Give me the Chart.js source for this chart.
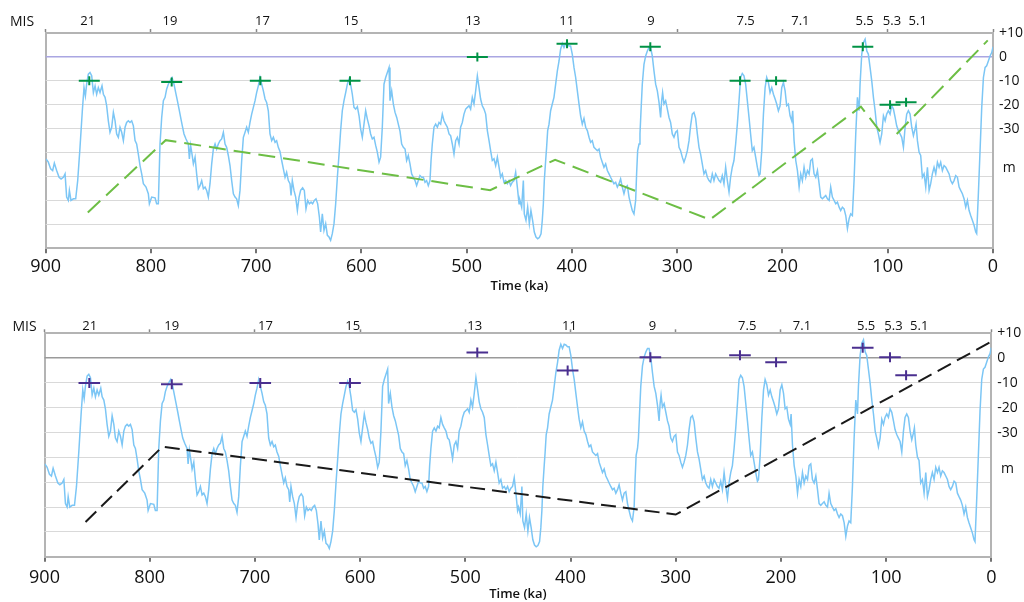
<!DOCTYPE html>
<html>
<head>
<meta charset="utf-8">
<script src="https://cdn.jsdelivr.net/npm/chart.js@4.4.1/dist/chart.umd.min.js"></script>
<style>
html,body{margin:0;padding:0;background:#fff;}
#wrap{position:relative;width:1024px;height:602px;overflow:hidden;font-family:"Open Sans","DejaVu Sans",sans-serif;}
canvas{position:absolute;left:0;}
.mis{position:absolute;font-size:14px;line-height:16px;color:#111;white-space:nowrap;}
</style>
</head>
<body>
<div id="wrap">
<canvas id="topChart" width="1024" height="300" style="top:0;width:1024px;height:300px"></canvas>
<canvas id="botChart" width="1024" height="302" style="top:300px;width:1024px;height:302px"></canvas>
<div class="mis" style="left:10px;top:13px">MIS</div>
<div class="mis" style="left:12.5px;top:318px">MIS</div>
</div>
<script>
// ---- sea-level curve (age in ka, level in m) ----
const ages = [
899.7,897.5,895.3,893.4,891.8,889.6,887.3,885.4,883.2,881.6,
880.1,878.5,877.5,876,873.7,871.5,869.6,867.4,865.2,863.6,
862.3,861.1,859.5,857.9,856.3,854.7,853.1,851.6,850,848.4,
846.5,845.2,843.6,842.1,840.5,838.9,837.3,835.7,834.1,832.6,
831,829.4,827.8,826.2,824.6,823.1,821.5,819.9,818.3,816.7,
815.1,813.6,812,810.4,808.8,807.2,804.7,802.5,801.5,799.3,
796.1,794.6,793,
791.4,789.8,788.2,786.6,785.1,783.5,781.9,780,778.1,776.5,
774.9,773.3,771.8,770.2,768.6,766.7,764.5,763.5,762.3,761,
759.7,758.1,756.6,755,753.4,751.8,750.2,748.6,747.1,745.5,
743.9,742.3,740.7,739.1,737.6,736,734.4,732.8,731.2,729.6,
728.1,726.5,724.9,723.3,721.7,720.1,718.6,717,715.4,713.8,
712.2,710.6,709.1,707.5,705.9,704.3,702.7,701.1,699.6,698,
696.4,694.8,693.2,691.6,690.1,688.5,686.9,685.3,683.7,682.1,
680.6,679,
677.4,675.8,674.2,672.6,671.1,669.5,667.9,666.9,665.7,664.1,
662.5,660.9,659.3,657.8,655.9,654.3,652.7,651.1,649.5,647.9,
646.4,644.8,643.2,641.6,640,638.8,637.2,635.6,634,632.4,
630.8,629.3,627.7,626.1,624.5,622.9,621.3,619.8,618.2,616.6,
615,613.4,611.8,610.3,608.7,607.1,605.5,603.9,602.3,600.8,
599.2,597.6,596,594.4,592.8,591.3,589.7,588.1,586.5,584.9,
583.3,581.8,580.2,578.6,577,575.4,573.8,572.9,571.3,569.7,
568.1,566.5,565,563.4,
561.8,560.2,558.6,557.1,555.5,553.9,552.3,550.7,549.1,547.6,
546,544.4,542.8,541.2,539.6,538.1,536.5,534.9,533.9,532.7,
531.1,529.5,527.9,526.3,524.8,523.2,521.6,520,518.4,516.8,
515.3,513.7,512.1,510.5,508.9,507.3,505.8,504.2,502.6,501,
499.4,497.8,496.3,494.7,493.1,491.5,489.9,488.3,486.8,485.2,
483.6,482,480.4,478.8,477.3,475.7,474.1,472.5,470.9,469.3,
467.8,466.2,464.6,463,461.4,459.8,458.3,456.7,455.1,453.5,
451.9,450.3,
449.4,447.8,446.2,445.3,443.7,442.1,440.5,439,437.4,435.8,
434.2,432.6,431,429.4,428.2,427.2,426.3,425,424.1,423.1,
421.8,420.3,418.7,417.1,415.5,413.9,412.3,410.8,409.2,407.6,
406,404.4,402.8,401.3,399.7,398.1,396.5,394.9,393.3,391.8,
390.2,388.6,387,385.4,383.8,382.3,380.7,379.1,377.5,375.9,
374.3,372.8,371.2,369.6,368,366.4,364.8,363.3,361.7,360.1,
358.5,356.9,355.3,353.8,352.2,350.6,349,347.4,345.8,344.3,
342.7,341.1,339.5,338.6,337.6,336.3,335.4,
334.4,333.2,331.6,330,328.4,326.8,325.3,323.7,322.1,320.5,
318.9,317.3,315.8,314.8,313.9,312.6,311,309.4,307.8,306.3,
304.7,303.1,301.5,299.9,298.3,296.8,295.2,293.6,292,290.4,
288.8,287.3,285.7,284.1,282.5,280.9,279.3,277.8,276.2,274.6,
273,271.4,269.8,268.3,266.7,265.1,263.5,261.9,260.3,258.8,
257.2,255.6,254,252.4,250.8,249.3,247.7,246.1,244.5,242.9,
241.3,239.8,238.2,236.6,235,233.4,231.8,230.3,228.7,227.1,
225.5,223.9,222.3,
221.3,219.7,218.1,216.5,215,213.4,211.8,210.2,208.6,207,
205.5,203.9,202.3,200.7,199.1,197.5,196,194.4,192.8,191.2,
190.3,189,187.4,185.8,184.2,182.7,181.1,179.5,177.9,176.3,
174.7,173.2,171.6,170,168.4,166.8,165.2,163.7,162.1,160.5,
158.9,157.3,155.7,154.2,152.6,151,149.4,147.8,146.2,144.7,
143.1,141.5,139.9,138.3,136.7,135.2,133.6,132,130.4,128.8,
127.2,126.3,124.7,123.1,121.5,119.9,118.4,116.8,115.2,113.6,
112,110.4,108.9,107.3,
105.7,104.1,102.5,101,99.4,97.8,96.2,94.6,93,91.5,
89.9,88.3,86.7,85.1,83.5,82,80.4,78.8,77.2,75.6,
74,73.1,71.8,70.2,68.7,67.1,65.5,63.9,62.3,60.7,
59.2,57.6,56,54.4,52.8,51.2,49.7,48.1,46.5,44.9,
43.3,41.7,40.2,38.6,37,35.4,33.8,32.2,30.7,29.1,
27.5,25.9,24.3,22.7,21.2,19.6,18,16.4,15.5,13.9,
12.3,10.7,9.1,7.5,6,4.4,2.8,1.2,0
];
const seaLevel = [
-42.6,-44,-46.8,-47.5,-44.4,-47.5,-50.3,-51,-50.3,-48.9,
-58.6,-60,-55.8,-60,-59.3,-59.3,-51.7,-37.8,-22.5,-12.8,
-16.3,-11.4,-7.2,-6.5,-7.9,-14.9,-12.1,-15.6,-12.8,-14.9,
-12.1,-15.6,-16.9,-20.4,-26.7,-31.5,-29.4,-23.2,-26.7,-32.2,
-33.6,-29.4,-31.5,-35,-29.4,-27.4,-26.7,-27.4,-26.7,-28.8,
-35,-36.4,-40.6,-45.4,-48.9,-53,-54.4,-57.2,-61.4,-58.6,
-58.9,-61.4,-61.4,
-36.4,-25.3,-18.3,-16.9,-13.5,-11.4,-10,-8.6,-11.4,-14.9,
-18.3,-21.8,-25.3,-28.8,-32.2,-34.3,-36.4,-42.6,-37,-40.6,
-44.7,-41.9,-48.9,-55.1,-53.8,-51.7,-55.1,-54.4,-55.8,-58.6,
-53,-44.7,-38.5,-36.4,-38.5,-36.4,-35,-34.3,-31.5,-36.4,
-37.8,-41.2,-45.4,-51.7,-57.2,-58.6,-59.3,-62.1,-55.8,-43.3,
-33.6,-31.5,-29.4,-31.5,-27.4,-23.9,-21.1,-18.3,-14.9,-12.1,
-8.6,-11.4,-14.2,-17.6,-19,-22.5,-32.2,-35,-33.6,-35.7,
-35,-37.8,
-39.5,-43.3,-46.8,-50.3,-48.2,-51.7,-53,-57.9,-51.7,-55.8,
-58.6,-64.2,-58.6,-55.8,-54.7,-55.8,-63.5,-60,-61.4,-60.7,
-61.4,-60,-59.3,-61.4,-66.9,-73.2,-65.6,-72.5,-69.7,-74.6,
-75.3,-76.7,-73.9,-69.7,-61.4,-50.3,-40.6,-30.8,-22.5,-18.3,
-14.9,-11.4,-9.3,-11.4,-15.6,-21.1,-21.8,-20.8,-24.6,-30.1,
-33.6,-28.1,-22.5,-26,-28.8,-32.2,-34.3,-33.6,-37,-39.9,
-44,-41.9,-29.4,-11.4,-8.6,-6.5,-4.4,-18.3,-14.2,-19.7,
-23.2,-25.3,-28.1,-31,
-36.4,-37.8,-38.5,-43.3,-41.2,-44.7,-48.9,-50.3,-51.7,-53.8,
-51.7,-49.6,-50.3,-50.3,-52.4,-51.7,-53.8,-51.7,-43.3,-36.4,
-29.4,-28.1,-29.4,-27.4,-28.1,-23.9,-26.7,-28.1,-29.4,-32.2,
-32.9,-36.4,-40.6,-35,-33.6,-36.4,-29.4,-27.4,-23.9,-21.8,
-21.1,-20.4,-21.8,-16.9,-19.7,-14.2,-7.9,-12.8,-17.6,-20.4,
-21.8,-23.9,-30.8,-35,-39.2,-43.3,-42.6,-45.4,-41.9,-46.1,
-50.3,-48.9,-52.4,-51.7,-53,-51.7,-53.8,-52.4,-51.7,-48.2,
-54.4,-61.4,
-60,-62.8,-51.7,-65.6,-68.3,-62.8,-69.7,-64.2,-68.3,-73.2,
-75.3,-76,-75.5,-73.9,-68.3,-61.4,-51.7,-43.3,-37.8,-30.8,
-28.1,-22.5,-19.7,-16.9,-11.4,-5.8,-1.7,3.2,5.6,3.9,
5.6,5.3,4.6,4.6,1.1,-4.4,-8.6,-14.2,-19.7,-24.6,
-28.1,-25.7,-29.4,-30.8,-33.6,-35.7,-35,-37.8,-38.5,-39.2,
-38.5,-41.9,-44,-46.1,-44.7,-47.5,-48.9,-50.3,-51.7,-53,
-52.4,-54.4,-53,-51,-54.4,-57.2,-54.4,-53.8,-58.6,-61.4,
-64.2,-65.6,-60,-48.9,-39.2,-36.4,-32.2,
-22.5,-11.4,-3.1,0.4,2.5,3.9,3.9,0.4,-5.8,-11.4,
-14.2,-19,-25.3,-18.3,-14.9,-19.7,-18.3,-21.8,-25.3,-27.4,
-32.2,-33.6,-31.5,-30.8,-37.8,-39.2,-41.9,-44,-41.9,-39.2,
-35,-28.8,-23.9,-23.2,-25.7,-32.2,-37.8,-40.6,-44.7,-48.9,
-47.5,-50.3,-51.7,-52.4,-48.9,-51.7,-48.9,-50.3,-51.7,-52.4,
-49.6,-53,-46.1,-51.7,-56.5,-50.3,-46.1,-43.3,-36.4,-28.1,
-18.3,-8.6,-6.9,-7.9,-11.4,-18.3,-25.3,-32.2,-39.2,-37.8,
-41.9,-46.1,-49.6,
-48.9,-39.2,-23.9,-12.8,-8.6,-10.7,-14.9,-12.8,-15.6,-17.6,
-19.7,-22.5,-20.4,-12.8,-10.7,-14.2,-20.4,-19.7,-24.6,-26.7,
-22.5,-35,-43.3,-47.5,-54.4,-48.9,-51.7,-46.1,-50.3,-47.5,
-48.9,-43.3,-42.6,-48.9,-50.3,-47.5,-53,-58.6,-59.3,-58.6,
-57.9,-59.3,-60,-54.4,-58.6,-60,-61.4,-60.7,-62.8,-64.2,
-62.8,-63.5,-66.3,-71.8,-67.6,-65.6,-66.3,-51.7,-32.2,-16.9,
-22.5,-11.4,1.1,6,7.4,2.5,1.1,-4.4,-10,-16.9,
-22.5,-29.4,-32.2,-35.7,
-32.2,-24.6,-26.7,-23.9,-22.5,-23.9,-20.4,-21.8,-25.3,-28.8,
-30.8,-32.2,-33.6,-37.8,-29.4,-23.9,-22.5,-23.9,-29.4,-32.9,
-30.1,-28.1,-35,-39.9,-41.2,-50.3,-48.9,-54.4,-46.1,-55.8,
-53,-48.9,-46.1,-48.9,-44,-46.1,-44,-47.5,-45.4,-46.1,
-47.5,-48.9,-51.7,-53,-51.7,-49.6,-50.3,-54.4,-55.8,-57.2,
-59.3,-62.8,-60,-64.2,-66.3,-68.3,-70.4,-73.2,-73.9,-57.2,
-39.2,-21.1,-8.6,-4.4,-3.7,-1.7,0.4,1.8,4.2
];

// ---- MIS labels ----
const misLabels = ['21','19','17','15','13','11','9','7.5','7.1','5.5','5.3','5.1'];
const misAgesTop = [860,782,694,610,494,405,325,235,183,122,96,71.5];
const misAgesBottom = [857,779,690,607,491,401,322,232,180,119,93,68.5];

// ---- axis ticks ----
const axisTicks = [900,800,700,600,500,400,300,200,100,0];
const levelTickValues = [10,0,-10,-20,-30,-40,-50,-60,-70,-80];
const levelLabelValues = [10,0,-10,-20,-30];
const levelLabelTexts = ['+10','0','-10','-20','-30'];

// ---- highstand crosses ----
const crossAgesTop = [858.6,780.3,696.1,610.9,489.9,404.7,325.6,240.3,206.1,123.7,97.8,82.6];
const crossLevelsTop = [-10,-10.5,-10,-10,0,5.5,4.2,-10,-10,4.2,-20,-19];
const crossAgesBottom = [857.4,779,694.9,609.6,488.6,402.7,324.1,238.9,204.6,122.2,96.3,81];
const crossLevelsBottom = [-10,-10.5,-10,-10,2.3,-5,0.4,1.2,-1.7,4.2,0.4,-6.9];

// ---- trend lines ----
const greenAges = [860,786,477.7,416,269,125.5,104,98,91.5,5];
const greenLevels = [-65,-34.8,-55.7,-43,-68,-20.8,-33,null,-32.2,6.9];
const blackAges = [861,788,300,1];
const blackLevels = [-66,-35.7,-63,6.4];

function pts(xs, ys){
  const n = Math.min(xs.length, ys.length), out = [];
  for (let i = 0; i < n; i++) out.push({x: xs[i], y: ys[i]});
  return out;
}

const FONT = '"Open Sans", "DejaVu Sans", sans-serif';
const BORDER = '#b4b4b4';
const CLEAR = 'rgba(0,0,0,0)';

function drawPanel(id, o){
  const hundreds = new Set(axisTicks);
  const misMap = new Map(o.misAges.map((a,i)=>[a, misLabels[i]]));
  const topTicks = axisTicks.concat(o.misAges).sort((a,b)=>a-b);
  const lvlMap = new Map(levelLabelValues.map((v,i)=>[v, levelLabelTexts[i]]));
  const yTicks = levelTickValues.concat([o.mLevel]).sort((a,b)=>a-b);
  return new Chart(document.getElementById(id), {
    type: 'line',
    data: { datasets: [
      {label:'h', data: pts(o.crossAges, o.crossLevels), showLine:false, pointStyle:'line',
       pointRadius:o.crossH, pointHoverRadius:o.crossH, pointBorderColor:o.crossColor, borderColor:o.crossColor,
       pointBorderWidth:2, order:0},
      {label:'v', data: pts(o.crossAges, o.crossLevels), showLine:false, pointStyle:'line', pointRotation:90,
       pointRadius:o.crossV, pointHoverRadius:o.crossV, pointBorderColor:o.crossColor, borderColor:o.crossColor,
       pointBorderWidth:2, order:0},
      {label:'trend', data: pts(o.trendAges, o.trendLevels), borderColor:o.trendColor, borderWidth:2,
       borderDash:o.dash, pointRadius:0, spanGaps:false, fill:false, tension:0, order:1},
      {label:'sea', data: pts(ages, seaLevel), borderColor:'#7cc6f5', borderWidth:1.5,
       pointRadius:0, fill:false, tension:0, order:2}
    ]},
    options: {
      responsive:false, animation:false, devicePixelRatio:1, events:[],
      layout:{padding:{left:o.left, right:0, top:0, bottom:0}},
      plugins:{legend:{display:false}, tooltip:{enabled:false}},
      scales:{
        x:{
          type:'linear', position:'bottom', min:0, max:900, reverse:true,
          afterBuildTicks: s => { s.ticks = axisTicks.map(v=>({value:v})); },
          afterFit: s => { s.height = o.xH; },
          ticks:{autoSkip:false, maxRotation:0, color:'#111', padding:o.xPad,
                 font:{family:FONT, size:18}, callback: v => String(v)},
          grid:{drawOnChartArea:true, lineWidth:2,
                color: c => (c.tick && c.tick.value === 900) ? BORDER : CLEAR,
                tickColor:'#444', tickLength:5, tickWidth:1.5},
          border:{display:true, color:BORDER, width:2},
          title:{display:true, text:'Time (ka)', color:'#111',
                 font:{family:FONT, size:13, weight:'600'}, padding:{top:0, bottom:o.titlePad}}
        },
        xTop:{
          type:'linear', axis:'x', position:'top', min:0, max:900, reverse:true,
          afterBuildTicks: s => { s.ticks = topTicks.map(v=>({value:v})); },
          afterFit: s => { s.height = o.topH; },
          ticks:{autoSkip:false, maxRotation:0, color:'#111', padding:o.misPad,
                 font:{family:FONT, size:13}, callback: v => (misMap.has(v) ? misMap.get(v) : '')},
          grid:{drawOnChartArea:false, tickLength:4, tickWidth:1.5,
                tickColor: c => (c.tick && hundreds.has(c.tick.value)) ? '#888' : CLEAR},
          border:{display:true, color:BORDER, width:2}
        },
        y:{
          type:'linear', position:'right', min:-80, max:10,
          afterBuildTicks: s => { s.ticks = yTicks.map(v=>({value:v})); },
          afterFit: s => { s.width = o.yW; },
          ticks:{autoSkip:false, color:'#111', padding:6, font:{family:FONT, size:14},
                 callback: v => (lvlMap.has(v) ? lvlMap.get(v) : (v === o.mLevel ? ' m' : ''))},
          grid:{drawTicks:false, lineWidth: c => (c.tick && c.tick.value === 0) ? 1.5 : 1,
                color: c => {
                  const v = c.tick ? c.tick.value : null;
                  if (v === 0) return o.zeroColor;
                  if (v === 10 || v === -80 || v === o.mLevel) return CLEAR;
                  return '#d9d9d9';
                }},
          border:{display:true, color:BORDER, width:2}
        }
      }
    }
  });
}

drawPanel('topChart', {
  left:45.7, xH:51.7, topH:33, yW:31, xPad:2.9, misPad:0, titlePad:6.2,
  misAges:misAgesTop, mLevel:-46.5, zeroColor:'#aaa6e2',
  crossAges:crossAgesTop, crossLevels:crossLevelsTop, crossColor:'#009245', crossH:10.5, crossV:4.5,
  trendAges:greenAges, trendLevels:greenLevels, trendColor:'#6dbe45', dash:[17,8]
});
drawPanel('botChart', {
  left:44.5, xH:45.3, topH:33.3, yW:32.7, xPad:5.8, misPad:-4.5, titlePad:0,
  misAges:misAgesBottom, mLevel:-44.5, zeroColor:'#9a9a9a',
  crossAges:crossAgesBottom, crossLevels:crossLevelsBottom, crossColor:'#4a2f8f', crossH:10.8, crossV:5,
  trendAges:blackAges, trendLevels:blackLevels, trendColor:'#1a1a1a', dash:[15,7]
});
</script>
</body>
</html>
